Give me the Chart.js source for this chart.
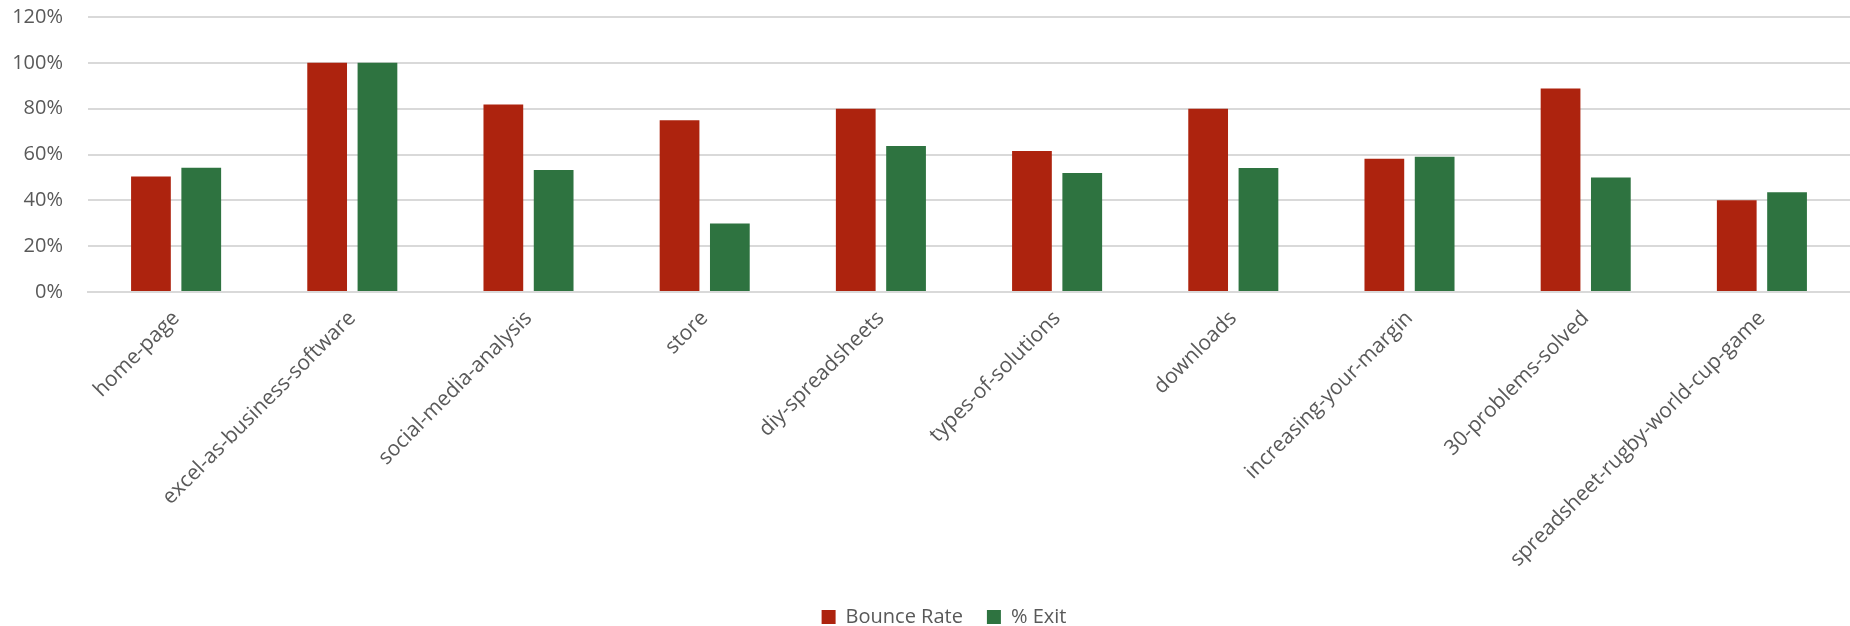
<!DOCTYPE html>
<html>
<head>
<meta charset="utf-8">
<script src="https://cdn.jsdelivr.net/npm/chart.js@4.4.1/dist/chart.umd.min.js"></script>
<style>
  html, body { margin: 0; padding: 0; background: #ffffff; }
  #wrap { width: 1850px; height: 626px; }
</style>
</head>
<body>
<div id="wrap"><canvas id="page-chart"></canvas></div>
<script>
// Pages and their rates (fractions, shown as percent)
let pages = ['home-page', 'excel-as-business-software', 'social-media-analysis', 'store',
    'diy-spreadsheets', 'types-of-solutions', 'downloads', 'increasing-your-margin',
    '30-problems-solved', 'spreadsheet-rugby-world-cup-game']
let bounceRate = [0.504, 1.00, 0.818, 0.750, 0.800, 0.615, 0.800, 0.582, 0.888, 0.400]
let exitRate = [0.542, 1.00, 0.532, 0.299, 0.637, 0.519, 0.541, 0.590, 0.500, 0.435]
let yTicks = [0, 0.2, 0.4, 0.6, 0.8, 1.0, 1.2]

let textColor = '#595959'
let gridColor = '#d9d9d9'
Chart.defaults.font.family = "'Open Sans', sans-serif"

// Nudge the legend a little to the right after layout
let legendShift = {
    id: 'legendShift',
    afterLayout: function(chart) {
        chart.legend.left += 19
        chart.legend.right += 19
    }
}

let ctx = document.querySelector('#page-chart').getContext('2d')

let pageChart = new Chart(ctx, {
    type: 'bar',
    data: {
        labels: pages,
        datasets: [
            {
                label: 'Bounce Rate',
                data: bounceRate,
                backgroundColor: '#ad230e'
            },
            {
                label: '% Exit',
                data: exitRate,
                backgroundColor: '#2e7340'
            }
        ]
    },
    options: {
        responsive: true,
        maintainAspectRatio: false,
        animation: false,
        categoryPercentage: 0.571,
        barPercentage: 0.79,
        layout: {
            padding: { top: 17, right: 0, left: 0, bottom: -11 }
        },
        plugins: {
            tooltip: { enabled: false },
            legend: {
                position: 'bottom',
                labels: {
                    color: textColor,
                    boxWidth: 14,
                    boxHeight: 14,
                    padding: 24,
                    font: { size: 20 }
                }
            }
        },
        scales: {
            x: {
                grid: { display: false, drawTicks: false },
                border: { display: true, color: gridColor, width: 2 },
                ticks: {
                    color: textColor,
                    font: { size: 21 },
                    minRotation: 45,
                    maxRotation: 45,
                    autoSkip: false,
                    padding: 14
                },
                afterFit: function(scale) {
                    scale.height = 291
                    scale.paddingTop = 0
                    scale.paddingBottom = 0
                }
            },
            y: {
                min: 0,
                max: 1.2,
                grid: { color: gridColor, lineWidth: 2, drawTicks: false },
                border: { display: false },
                afterBuildTicks: function(scale) {
                    scale.ticks = yTicks.map(function(v) { return { value: v } })
                },
                ticks: {
                    color: textColor,
                    font: { size: 20 },
                    padding: 25,
                    callback: function(value) {
                        return Math.round(value * 100) + '%'
                    }
                },
                afterFit: function(scale) {
                    scale.width = 88
                    scale.paddingTop = 0
                    scale.paddingBottom = 0
                }
            }
        }
    },
    plugins: [legendShift]
})
</script>
</body>
</html>
